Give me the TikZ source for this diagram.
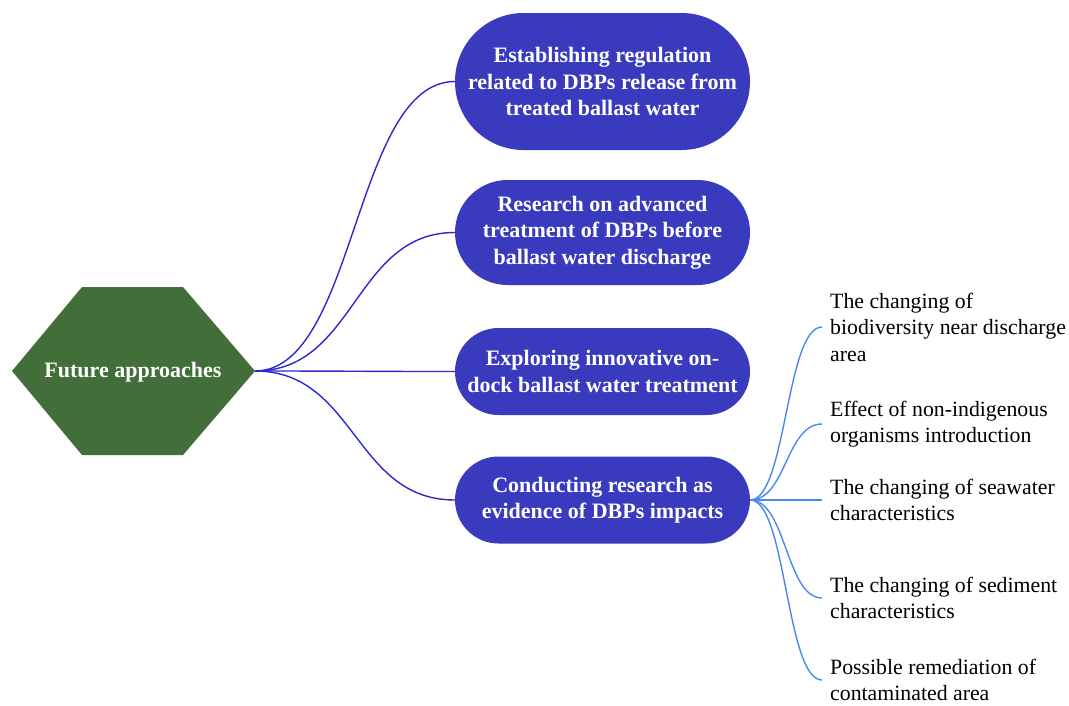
\documentclass[tikz,border=0pt]{standalone}
\usepackage{fontspec}
\setmainfont{Liberation Serif}
\usetikzlibrary{shapes.misc}
\definecolor{pillblue}{RGB}{58,58,190}
\definecolor{hexgreen}{RGB}{66,110,58}
\definecolor{mainline}{RGB}{45,40,205}
\definecolor{leafline}{RGB}{75,135,240}
\begin{document}
\begin{tikzpicture}[x=1pt,y=-1pt,
  pill/.style={rounded rectangle, fill=pillblue, text=white,
    font=\bfseries\fontsize{22}{26.5}\selectfont, align=center,
    minimum width=295pt, inner sep=0pt},
  leaf/.style={anchor=west, align=left, font=\fontsize{21.8}{26.5}\selectfont,
    inner xsep=8pt, inner ysep=0pt},
  hubtext/.style={text=white, font=\bfseries\fontsize{22}{26.5}\selectfont},
  mainconn/.style={draw=mainline, line width=1.4pt},
  leafconn/.style={draw=leafline, line width=1.4pt}]
\useasboundingbox (0,0) rectangle (1069,705);
% hub hexagon
\fill[hexgreen] (12,371) -- (82,287) -- (183,287) -- (255,371) -- (183,455) -- (82,455) -- cycle;
\node[hubtext] (hub) at (133,372) {Future approaches};
\coordinate (hubE) at (255,371);
% pills
\node[pill, minimum height=137pt] (n1) at (602.5,81.5) {Establishing regulation\\related to DBPs release from\\treated ballast water};
\node[pill, minimum height=105pt] (n2) at (602.5,232.5) {Research on advanced\\treatment of DBPs before\\ballast water discharge};
\node[pill, minimum height=87pt] (n3) at (602.5,371.5) {Exploring innovative on-\\dock ballast water treatment};
\node[pill, minimum height=87pt] (n4) at (602.5,500) {Conducting research as\\evidence of DBPs impacts};
% leaves
\node[leaf] (l1) at (822,327) {The changing of\\biodiversity near discharge\\area};
\node[leaf] (l2) at (822,424) {Effect of non-indigenous\\organisms introduction};
\node[leaf] (l3) at (822,500) {The changing of seawater\\characteristics};
\node[leaf] (l4) at (822,598) {The changing of sediment\\characteristics};
\node[leaf] (l5) at (822,680) {Possible remediation of\\contaminated area};
% main connectors
\foreach \n in {n1,n2,n3,n4}
  \draw[mainconn] (hubE) .. controls +(101,0) and +(-101,0) .. (\n.west);
% leaf connectors
\foreach \l in {l1,l2,l3,l4,l5}
  \draw[leafconn] (n4.east) .. controls +(36,0) and +(-36,0) .. (\l.west);
\end{tikzpicture}
\end{document}
